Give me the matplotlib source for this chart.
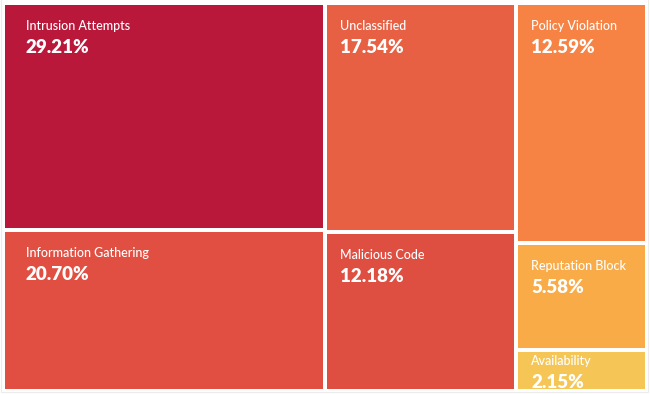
import numpy as np
import matplotlib
matplotlib.use("Agg")
import matplotlib.pyplot as plt
from matplotlib.patches import Rectangle

plt.rcParams['font.family'] = ['Lato', 'DejaVu Sans']

categories = ["Intrusion Attempts", "Information Gathering", "Unclassified",
              "Malicious Code", "Policy Violation", "Reputation Block", "Availability"]
shares = [29.21, 20.70, 17.54, 12.18, 12.59, 5.58, 2.15]
colors = ["#BA183A", "#E04F42", "#E86044", "#DE4E41", "#F68244", "#F9AB48", "#F5C655"]
# which categories stack together in each column of the treemap
columns = [[0, 1], [2, 3], [4, 5, 6]]
text_pad = [21, 13, 13]

W, H = 650, 394
x0, y0, x1, y1 = 3, 3, 647, 391
inset = 2

fig = plt.figure(figsize=(6.5, 3.94), dpi=100)
ax = fig.add_axes([0, 0, 1, 1])
ax.set_xlim(0, W)
ax.set_ylim(H, 0)
ax.axis("off")

total = sum(shares)
x = x0
for ci, col in enumerate(columns):
    col_sum = sum(shares[i] for i in col)
    cw = (x1 - x0) * col_sum / total
    y = y0
    for i in col:
        ch = (y1 - y0) * shares[i] / col_sum
        ax.add_patch(Rectangle((x + inset, y + inset), cw - 2 * inset, ch - 2 * inset,
                               facecolor=colors[i], edgecolor="none"))
        top = y + inset
        off = 25 if ch > 80 else 13.5
        tx = x + inset + text_pad[ci]
        ax.text(tx, top + off, categories[i], color="white", fontsize=9,
                fontweight="medium", va="baseline", ha="left")
        ax.text(tx, top + off + 23, "%.2f%%" % shares[i], color="white",
                fontsize=13.5, fontweight="heavy", va="baseline", ha="left")
        y += ch
    x += cw

# faint frame round the image
ax.plot([1, 1, 648, 648], [0, 392, 392, 0], color="#ececec", lw=0.8)

plt.savefig("out.png", dpi=100)
